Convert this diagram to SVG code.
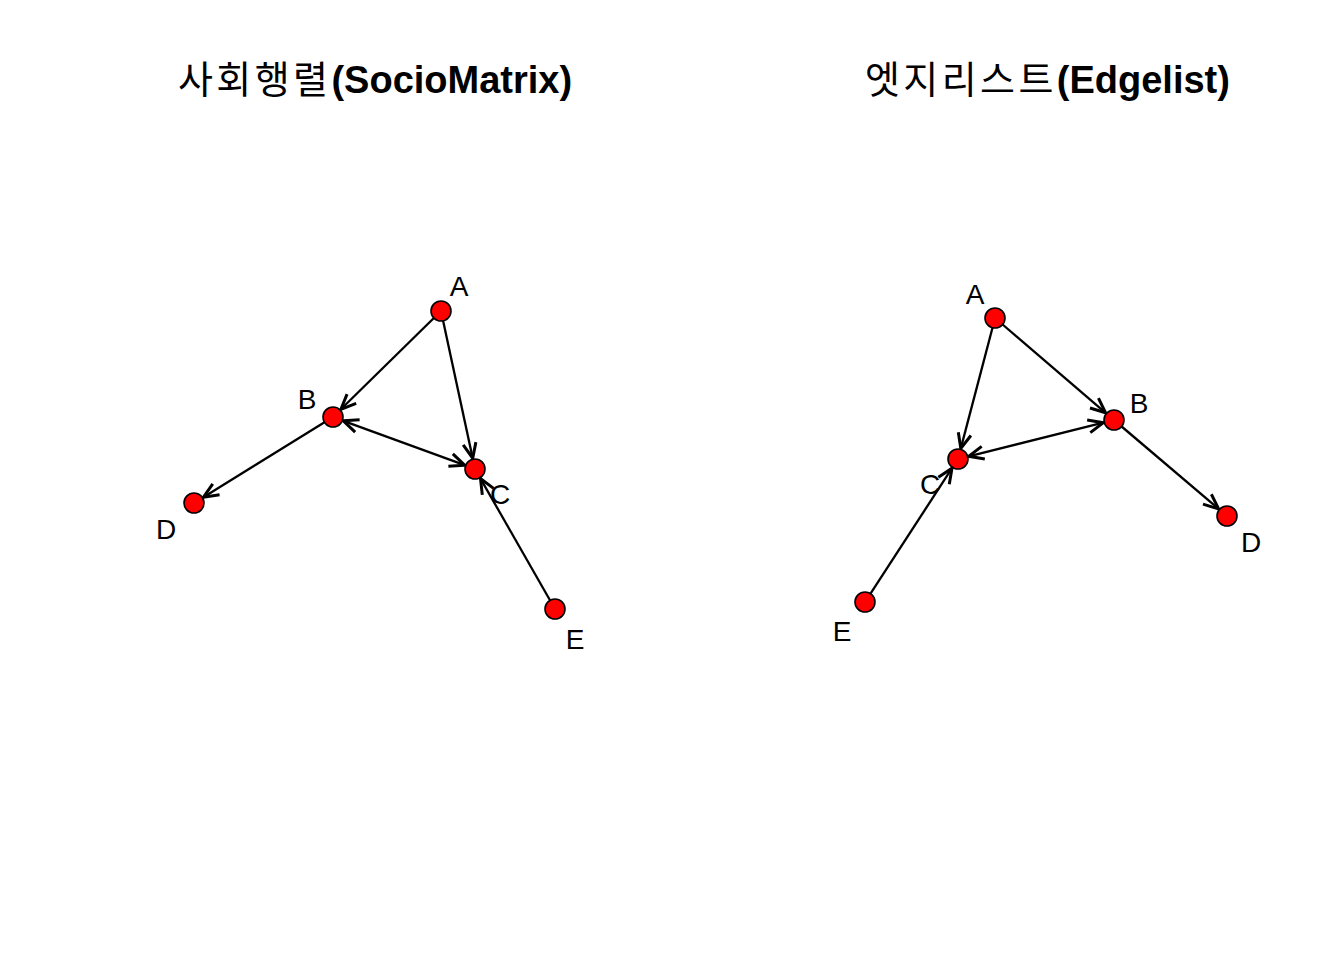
<svg xmlns="http://www.w3.org/2000/svg" width="1344" height="960" viewBox="0 0 1344 960">
<style>
.title{font-family:"Liberation Sans","Noto Sans CJK KR",sans-serif;font-size:38px;fill:#000}
.ko{font-family:"Noto Sans CJK KR",sans-serif;font-weight:normal;letter-spacing:3.4px}
.en{font-family:"Liberation Sans",Arial,sans-serif;font-weight:bold;letter-spacing:0}
.lbl{font-family:"Liberation Sans",Arial,sans-serif;font-size:28px;fill:#000;text-anchor:middle}
.node{fill:#ff0000;stroke:#000;stroke-width:1.6}
.edge{stroke:#000;stroke-width:2.3;fill:none;marker-end:url(#arr)}
.both{marker-start:url(#arr)}
</style>
<defs>
<marker id="arr" markerUnits="userSpaceOnUse" viewBox="-18 -9 20 18" refX="0" refY="0" markerWidth="20" markerHeight="18" orient="auto-start-reverse">
<path d="M-15,-6.5 L0,0 L-15,6.5" fill="none" stroke="#000" stroke-width="3" stroke-linejoin="miter"/>
</marker>
</defs>
<rect width="1344" height="960" fill="#fff"/>
<text class="title" x="178" y="93"><tspan class="ko">사회행렬</tspan><tspan class="en">(SocioMatrix)</tspan></text>
<text class="title" x="865" y="93"><tspan class="ko">엣지리스트</tspan><tspan class="en">(Edgelist)</tspan></text>
<g id="connectors">
<line class="edge" x1="433.9" y1="318.0" x2="340.9" y2="409.3"/>
<line class="edge" x1="443.1" y1="320.8" x2="472.7" y2="458.2"/>
<line class="edge both" x1="343.3" y1="420.8" x2="464.7" y2="465.2"/>
<line class="edge" x1="324.5" y1="422.3" x2="203.4" y2="497.2"/>
<line class="edge" x1="550.0" y1="600.3" x2="480.5" y2="478.6"/>
<line class="edge" x1="1002.6" y1="324.5" x2="1105.6" y2="412.8"/>
<line class="edge" x1="992.5" y1="327.7" x2="960.8" y2="448.4"/>
<line class="edge both" x1="1103.3" y1="422.7" x2="968.7" y2="456.3"/>
<line class="edge" x1="1121.6" y1="426.5" x2="1218.6" y2="508.9"/>
<line class="edge" x1="870.5" y1="593.6" x2="952.0" y2="468.2"/>
</g>
<g id="L_A"><circle class="node" cx="441" cy="311" r="10"/><text class="lbl" x="459" y="296">A</text></g>
<g id="L_B"><circle class="node" cx="333" cy="417" r="10"/><text class="lbl" x="307" y="409">B</text></g>
<g id="L_C"><circle class="node" cx="475" cy="469" r="10"/><text class="lbl" x="500" y="504">C</text></g>
<g id="L_D"><circle class="node" cx="194" cy="503" r="10"/><text class="lbl" x="166" y="539">D</text></g>
<g id="L_E"><circle class="node" cx="555" cy="609" r="10"/><text class="lbl" x="575" y="649">E</text></g>
<g id="R_A"><circle class="node" cx="995" cy="318" r="10"/><text class="lbl" x="975" y="304">A</text></g>
<g id="R_B"><circle class="node" cx="1114" cy="420" r="10"/><text class="lbl" x="1139" y="413">B</text></g>
<g id="R_C"><circle class="node" cx="958" cy="459" r="10"/><text class="lbl" x="930" y="494">C</text></g>
<g id="R_D"><circle class="node" cx="1227" cy="516" r="10"/><text class="lbl" x="1251" y="552">D</text></g>
<g id="R_E"><circle class="node" cx="865" cy="602" r="10"/><text class="lbl" x="842" y="641">E</text></g>
</svg>
